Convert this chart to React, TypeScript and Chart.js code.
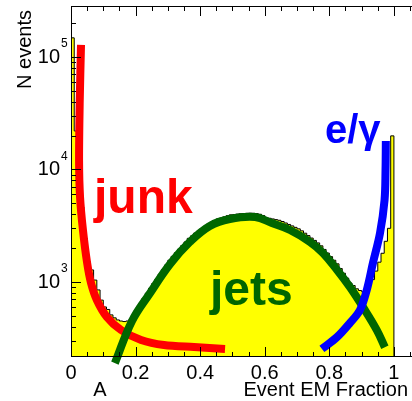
import React, { useEffect, useRef } from "react";
import { Chart, registerables } from "chart.js";

Chart.register(...registerables);

// ---- data ----
const binWidth = 0.01;
const histCounts = [
  148000, 22000, 9000, 4640, 2460, 1515, 1280, 1040, 850, 690,
  600, 570, 510, 480, 460, 450, 445, 450, 470, 520,
  583, 647, 716, 795, 879, 968, 1064, 1172, 1289, 1419,
  1563, 1690, 1819, 1958, 2109, 2270, 2444, 2571, 2723, 2851,
  2985, 3126, 3274, 3400, 3520, 3640, 3707, 3793, 3882, 3954,
  3972, 4010, 4040, 4060, 4080, 4090, 4080, 4050, 4000, 3900,
  3738, 3685, 3635, 3585, 3536, 3448, 3346, 3247, 3152, 3059,
  2968, 2848, 2714, 2585, 2458, 2342, 2226, 2097, 1947, 1809,
  1681, 1561, 1450, 1317, 1196, 1083, 980, 930, 870, 840,
  820, 850, 950, 1050, 1250, 1500, 1800, 2300, 3000, 19900,
];

const junkX = [0.031, 0.027, 0.025, 0.028, 0.037, 0.05, 0.062, 0.08, 0.111, 0.155, 0.217, 0.288, 0.381, 0.477];
const junkY = [128000, 40000, 12000, 5700, 2900, 1475, 980, 692, 489, 374, 305, 275, 264, 254];

const jetsX = [0.136, 0.189, 0.245, 0.307, 0.368, 0.43, 0.492, 0.57, 0.622, 0.678, 0.74, 0.78, 0.824, 0.864, 0.904, 0.947, 0.972];
const jetsY = [190, 450, 798, 1445, 2270, 3150, 3630, 3780, 3340, 2900, 2270, 1810, 1280, 900, 600, 374, 263];

const egX = [0.777, 0.824, 0.864, 0.895, 0.916, 0.935, 0.957, 0.971, 0.974, 0.975];
const egY = [254, 324, 433, 564, 849, 1475, 2730, 5350, 9900, 17900];

const xMajorTicks = [0, 0.2, 0.4, 0.6, 0.8, 1.0];
const xTickLabels = ["0", "0.2", "0.4", "0.6", "0.8", "1"];
const xMinorTicks = [0.05, 0.1, 0.15, 0.25, 0.3, 0.35, 0.45, 0.5, 0.55, 0.65, 0.7, 0.75, 0.85, 0.9, 0.95, 1.05];
const yMajorTicks = [1e3, 1e4, 1e5];
const yTickExponents = ["3", "4", "5"];
const yMinorMultipliers = [2, 3, 4, 5, 6, 7, 8, 9];
const yDecades = [1e2, 1e3, 1e4, 1e5];

const xTitle = "Event EM Fraction";
const yTitle = "N events";
const subLabel = "A";

const FONT = '"Liberation Sans", Arial, Helvetica, sans-serif';

const framePlugin = {
  id: "rootFrame",
  afterDatasetsDraw(chart: any) {
    const { ctx, chartArea: a, scales } = chart;
    const x = scales.x;
    const y = scales.y;
    ctx.save();

    // annotation texts
    ctx.textBaseline = "alphabetic";
    ctx.textAlign = "left";
    ctx.font = `bold 48px ${FONT}`;
    ctx.fillStyle = "#ff0000";
    ctx.fillText("junk", 94, 213);
    ctx.fillStyle = "#006600";
    ctx.fillText("jets", 210, 305);
    ctx.font = `bold 40px ${FONT}`;
    ctx.fillStyle = "#0000ff";
    ctx.fillText("e/\u03b3", 325, 143);

    // frame
    ctx.strokeStyle = "#000";
    ctx.lineWidth = 1;
    ctx.beginPath();
    ctx.moveTo(a.left + 0.5, a.bottom - 0.5);
    ctx.lineTo(a.left + 0.5, a.top + 0.5);
    ctx.lineTo(a.right + 2, a.top + 0.5);
    ctx.moveTo(a.left + 0.5, a.bottom - 0.5);
    ctx.lineTo(a.right + 2, a.bottom - 0.5);
    ctx.stroke();

    // x ticks
    ctx.beginPath();
    const xt = (v: number, len: number) => {
      const px = Math.round(x.getPixelForValue(v)) + 0.5;
      ctx.moveTo(px, a.bottom);
      ctx.lineTo(px, a.bottom - len);
      ctx.moveTo(px, a.top);
      ctx.lineTo(px, a.top + len);
    };
    xMajorTicks.forEach((v) => xt(v, 10));
    xMinorTicks.forEach((v) => xt(v, 5));
    // y ticks
    const yt = (v: number, len: number) => {
      const py = Math.round(y.getPixelForValue(v)) + 0.5;
      if (py < a.top || py > a.bottom) return;
      ctx.moveTo(a.left, py);
      ctx.lineTo(a.left + len, py);
    };
    yMajorTicks.forEach((v) => yt(v, 10));
    yDecades.forEach((d) => yMinorMultipliers.forEach((m) => yt(d * m, 5)));
    ctx.stroke();

    // tick labels
    ctx.fillStyle = "#000";
    ctx.font = `20px ${FONT}`;
    ctx.textAlign = "center";
    ctx.textBaseline = "middle";
    xMajorTicks.forEach((v, i) => {
      ctx.fillText(xTickLabels[i], x.getPixelForValue(v), a.bottom + 16);
    });
    yMajorTicks.forEach((v, i) => {
      const py = y.getPixelForValue(v);
      ctx.font = `20px ${FONT}`;
      ctx.textAlign = "right";
      ctx.textBaseline = "middle";
      ctx.fillText("10", 60, py);
      ctx.font = `12px ${FONT}`;
      ctx.textAlign = "left";
      ctx.fillText(yTickExponents[i], 61, py - 13);
    });

    // titles
    ctx.font = `20px ${FONT}`;
    ctx.textAlign = "right";
    ctx.textBaseline = "middle";
    ctx.fillText(xTitle, 408, 390);
    ctx.textAlign = "center";
    ctx.fillText(subLabel, 100, 390);
    ctx.save();
    ctx.translate(25, 10);
    ctx.rotate(-Math.PI / 2);
    ctx.textAlign = "right";
    ctx.fillText(yTitle, 0, 0);
    ctx.restore();

    ctx.restore();
  },
};

export default function App() {
  const ref = useRef<HTMLCanvasElement | null>(null);

  useEffect(() => {
    if (!ref.current) return;
    const histPoints: { x: number; y: number }[] = [{ x: 0, y: 1 }];
    histCounts.forEach((c, i) => histPoints.push({ x: i * binWidth, y: c }));
    histPoints.push({ x: histCounts.length * binWidth, y: histCounts[histCounts.length - 1] });
    histPoints.push({ x: histCounts.length * binWidth, y: 1 });

    const curve = (xs: number[], ys: number[]) => xs.map((v, i) => ({ x: v, y: ys[i] }));

    const chart = new Chart(ref.current, {
      type: "line",
      data: {
        datasets: [
          {
            data: curve(egX, egY),
            borderColor: "#0000ff",
            borderWidth: 8,
            tension: 0.35,
            pointRadius: 0,
            fill: false,
            borderCapStyle: "butt",
          },
          {
            data: curve(jetsX, jetsY),
            borderColor: "#006600",
            borderWidth: 8,
            tension: 0.4,
            pointRadius: 0,
            fill: false,
            clip: false,
            borderCapStyle: "butt",
          },
          {
            data: curve(junkX, junkY),
            borderColor: "#ff0000",
            borderWidth: 8,
            tension: 0.3,
            pointRadius: 0,
            fill: false,
            borderCapStyle: "butt",
          },
          {
            data: histPoints,
            borderColor: "#000",
            borderWidth: 1,
            backgroundColor: "#ffff00",
            stepped: true,
            pointRadius: 0,
            fill: "start",
            tension: 0,
          },
        ],
      } as any,
      options: {
        animation: false,
        responsive: false,
        devicePixelRatio: 1,
        layout: { padding: { left: 71, top: 6, right: 0, bottom: 44 } },
        plugins: { legend: { display: false }, tooltip: { enabled: false } },
        events: [],
        scales: {
          x: { type: "linear", min: 0, max: 1.056, display: false },
          y: { type: "logarithmic", min: 215.4, max: 284000, display: false },
        },
      } as any,
      plugins: [framePlugin],
    });
    return () => chart.destroy();
  }, []);

  return (
    <div style={{ position: "fixed", left: 0, top: 0, width: 412, height: 401, background: "#fff" }}>
      <canvas ref={ref} width={412} height={401} />
    </div>
  );
}
